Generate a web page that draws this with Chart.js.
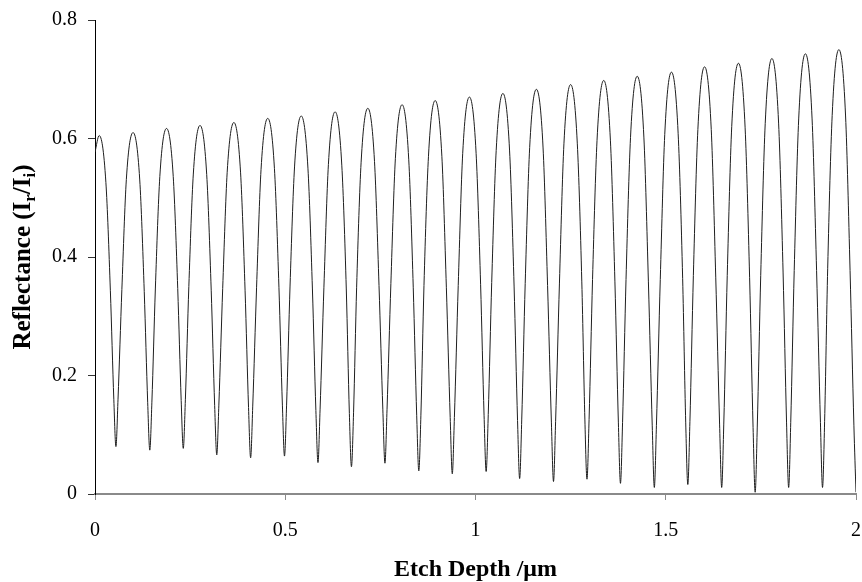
<!DOCTYPE html>
<html>
<head>
<meta charset="utf-8">
<title>Reflectance vs Etch Depth</title>
<script src="https://cdn.jsdelivr.net/npm/chart.js@4.4.0/dist/chart.umd.min.js"></script>
<style>
  html, body { margin: 0; padding: 0; background: #fff; }
  #wrap { width: 862px; height: 582px; }
</style>
</head>
<body>
<div id="wrap"><canvas id="chart" width="862" height="582"></canvas></div>
<script>
// points: each peak, the trough after it, and a few points on each flank
const depth = [
  0.000, 0.011, 0.0286, 0.0404, 0.0495, 0.055,
  0.0605, 0.0706, 0.0824, 0.100, 0.1176, 0.1294, 0.1385, 0.144,
  0.1495, 0.1586, 0.1704, 0.188, 0.2056, 0.2174, 0.2265, 0.232,
  0.2375, 0.2466, 0.2584, 0.276, 0.2936, 0.3054, 0.3145, 0.320,
  0.3255, 0.3356, 0.3474, 0.365, 0.3826, 0.3944, 0.4035, 0.409,
  0.4145, 0.4246, 0.4364, 0.454, 0.4716, 0.4834, 0.4925, 0.498,
  0.5035, 0.5126, 0.5244, 0.542, 0.5596, 0.5714, 0.5805, 0.586,
  0.5915, 0.6016, 0.6134, 0.631, 0.6486, 0.6604, 0.6685, 0.674,
  0.6795, 0.6876, 0.6994, 0.717, 0.7346, 0.7464, 0.7565, 0.762,
  0.7675, 0.7776, 0.7894, 0.807, 0.8246, 0.8364, 0.8455, 0.851,
  0.8565, 0.8646, 0.8764, 0.894, 0.9116, 0.9234, 0.9335, 0.939,
  0.9445, 0.9546, 0.9664, 0.984, 1.0016, 1.0134, 1.0225, 1.028,
  1.0335, 1.0426, 1.0544, 1.072, 1.0896, 1.1014, 1.1105, 1.116,
  1.1215, 1.1306, 1.1424, 1.160, 1.1776, 1.1894, 1.1995, 1.205,
  1.2105, 1.2206, 1.2324, 1.250, 1.2676, 1.2794, 1.2875, 1.293,
  1.2985, 1.3076, 1.3194, 1.337, 1.3546, 1.3664, 1.3755, 1.381,
  1.3865, 1.3956, 1.4074, 1.425, 1.4426, 1.4544, 1.4645, 1.470,
  1.4755, 1.4856, 1.4974, 1.515, 1.5326, 1.5444, 1.5525, 1.558,
  1.5635, 1.5726, 1.5844, 1.602, 1.6196, 1.6314, 1.6415, 1.647,
  1.6525, 1.6616, 1.6734, 1.691, 1.7086, 1.7204, 1.7295, 1.735,
  1.7405, 1.7496, 1.7614, 1.779, 1.7966, 1.8084, 1.8175, 1.823,
  1.8285, 1.8376, 1.8494, 1.867, 1.8846, 1.8964, 1.9065, 1.912,
  1.9175, 1.9256, 1.9374, 1.955, 1.9726, 1.9844, 1.9945, 2.000
];

const reflectance = [
  0.577, 0.605, 0.526, 0.343, 0.159, 0.080,
  0.160, 0.345, 0.531, 0.610, 0.530, 0.342, 0.154, 0.074,
  0.155, 0.346, 0.536, 0.617, 0.536, 0.347, 0.158, 0.077,
  0.159, 0.350, 0.540, 0.622, 0.539, 0.344, 0.149, 0.066,
  0.150, 0.347, 0.543, 0.627, 0.542, 0.344, 0.146, 0.061,
  0.147, 0.348, 0.548, 0.634, 0.549, 0.349, 0.150, 0.064,
  0.150, 0.351, 0.552, 0.638, 0.550, 0.346, 0.141, 0.053,
  0.142, 0.349, 0.556, 0.645, 0.555, 0.346, 0.136, 0.046,
  0.137, 0.349, 0.560, 0.651, 0.561, 0.352, 0.142, 0.052,
  0.143, 0.355, 0.566, 0.657, 0.564, 0.348, 0.132, 0.039,
  0.133, 0.352, 0.570, 0.664, 0.570, 0.349, 0.129, 0.034,
  0.129, 0.352, 0.575, 0.670, 0.575, 0.354, 0.133, 0.038,
  0.134, 0.357, 0.580, 0.676, 0.579, 0.351, 0.124, 0.026,
  0.125, 0.355, 0.585, 0.683, 0.584, 0.352, 0.120, 0.021,
  0.122, 0.356, 0.591, 0.691, 0.591, 0.358, 0.125, 0.025,
  0.126, 0.362, 0.597, 0.698, 0.596, 0.358, 0.120, 0.018,
  0.121, 0.362, 0.602, 0.705, 0.601, 0.358, 0.115, 0.011,
  0.116, 0.362, 0.607, 0.712, 0.608, 0.364, 0.120, 0.016,
  0.122, 0.369, 0.615, 0.721, 0.615, 0.366, 0.118, 0.011,
  0.118, 0.369, 0.620, 0.727, 0.618, 0.365, 0.112, 0.003,
  0.113, 0.369, 0.625, 0.735, 0.626, 0.373, 0.120, 0.011,
  0.121, 0.377, 0.633, 0.743, 0.633, 0.377, 0.121, 0.011,
  0.122, 0.381, 0.639, 0.750, 0.638, 0.377, 0.115, 0.003
];

const xTicks = [0, 0.5, 1, 1.5, 2];
const xTickLabels = ["0", "0.5", "1", "1.5", "2"];
const yTicks = [0, 0.2, 0.4, 0.6, 0.8];
const yTickLabels = ["0", "0.2", "0.4", "0.6", "0.8"];

const serif = "'Liberation Serif', 'Times New Roman', serif";

function tickLabel(ticks, labels, value) {
  const i = ticks.findIndex((t) => Math.abs(t - value) < 1e-6);
  return i >= 0 ? labels[i] : "";
}

// y title has subscripts, so it is drawn by hand
const yTitlePlugin = {
  id: "yTitle",
  afterDraw(chart) {
    const { ctx, chartArea } = chart;
    const parts = [
      { text: "Reflectance (I", sub: false },
      { text: "r", sub: true },
      { text: "/I", sub: false },
      { text: "i", sub: true },
      { text: ")", sub: false }
    ];
    const mainFont = "bold 25px " + serif;
    const subFont = "bold 17px " + serif;
    ctx.save();
    let total = 0;
    parts.forEach((p) => {
      ctx.font = p.sub ? subFont : mainFont;
      p.w = ctx.measureText(p.text).width;
      total += p.w;
    });
    ctx.translate(22, (chartArea.top + chartArea.bottom) / 2);
    ctx.rotate(-Math.PI / 2);
    ctx.fillStyle = "#000";
    ctx.textBaseline = "alphabetic";
    let x = -total / 2;
    parts.forEach((p) => {
      ctx.font = p.sub ? subFont : mainFont;
      ctx.fillText(p.text, x, p.sub ? 13 : 8);
      x += p.w;
    });
    ctx.restore();
  }
};

const points = depth.map((d, i) => ({ x: d, y: reflectance[i] }));

new Chart(document.getElementById("chart"), {
  type: "line",
  data: {
    datasets: [
      {
        data: points,
        borderColor: "#1e1e1e",
        borderWidth: 1,
        pointRadius: 0,
        fill: false,
        cubicInterpolationMode: "monotone"
      }
    ]
  },
  options: {
    responsive: false,
    animation: false,
    devicePixelRatio: 1,
    layout: { padding: { top: 20, right: 6, left: 0, bottom: 0 } },
    plugins: {
      legend: { display: false },
      tooltip: { enabled: false }
    },
    scales: {
      x: {
        type: "linear",
        min: 0,
        max: 2,
        afterFit: (scale) => {
          scale.height = 88;
          scale.paddingLeft = 0;
          scale.paddingRight = 0;
        },
        ticks: {
          stepSize: 0.5,
          maxRotation: 0,
          padding: 19,
          color: "#000",
          font: { family: serif, size: 20 },
          callback: (value) => tickLabel(xTicks, xTickLabels, value)
        },
        grid: { drawOnChartArea: false, drawTicks: true, tickLength: 6, color: "#8a8a8a" },
        border: { display: true, color: "#8a8a8a", width: 2 },
        title: {
          display: true,
          text: "Etch Depth /\u03bcm",
          color: "#000",
          font: { family: serif, size: 24, weight: "bold", lineHeight: 1 },
          padding: { top: 0, bottom: 0 }
        }
      },
      y: {
        min: 0,
        max: 0.8,
        afterFit: (scale) => {
          scale.width = 95;
          scale.paddingTop = 0;
          scale.paddingBottom = 0;
        },
        ticks: {
          stepSize: 0.2,
          padding: 11,
          color: "#000",
          font: { family: serif, size: 20 },
          callback: (value) => tickLabel(yTicks, yTickLabels, value)
        },
        grid: { drawOnChartArea: false, drawTicks: true, tickLength: 7, color: "#333" },
        border: { display: true, color: "#000", width: 1 }
      }
    }
  },
  plugins: [yTitlePlugin]
});
</script>
</body>
</html>
